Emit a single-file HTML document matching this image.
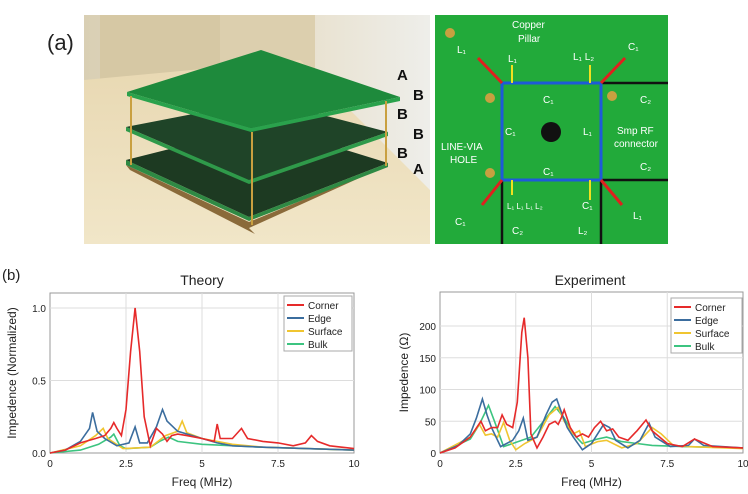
<!DOCTYPE html>
<html><head><meta charset="utf-8"><style>
body{margin:0;background:#fff;width:748px;height:494px;overflow:hidden}
svg{display:block;font-family:"Liberation Sans",sans-serif}
</style></head><body>
<svg id="s" width="748" height="494" viewBox="0 0 748 494" xmlns="http://www.w3.org/2000/svg">
<defs>
<linearGradient id="wall" x1="0" y1="0" x2="1" y2="0"><stop offset="0" stop-color="#d9cfb4"/><stop offset="0.6" stop-color="#e8e0cc"/><stop offset="1" stop-color="#eeeeea"/></linearGradient>
<linearGradient id="tab" x1="0" y1="0" x2="0" y2="1"><stop offset="0" stop-color="#e8d8b2"/><stop offset="1" stop-color="#f1e6c8"/></linearGradient>
</defs>
<text x="47" y="50" font-size="22" fill="#222">(a)</text>
<!-- left photo -->
<rect x="84" y="15" width="346" height="229" fill="url(#wall)"/>
<rect x="100" y="15" width="120" height="75" fill="#d6c8a4"/>
<rect x="220" y="15" width="95" height="70" fill="#dccfae"/>
<polygon points="84,105 84,244 430,244 430,190 300,60 84,80" fill="url(#tab)"/>
<polygon points="126,165 249,222 388,165 249,228 255,234 130,170" fill="#8a6a3a"/>
<polygon points="126,160 249,217 388,163 265,125" fill="#1d3a22"/>
<polygon points="126,160 249,217 249,221 126,165" fill="#2f8a44"/>
<polygon points="249,217 388,163 388,167 249,221" fill="#2f8a44"/>
<polygon points="126,127 249,180 388,132 265,100" fill="#1f4428"/>
<polygon points="126,127 249,180 249,184 126,131" fill="#2f9a4a"/>
<polygon points="249,180 388,132 388,136 249,184" fill="#2f9a4a"/>
<polygon points="127,92 261,50 400,97 251,128" fill="#1e8a3c"/>
<polygon points="127,92 251,128 251,132 127,96" fill="#2aa24c"/>
<polygon points="251,128 400,97 400,101 251,132" fill="#2aa24c"/>
<line x1="131" y1="96" x2="131" y2="165" stroke="#c9a040" stroke-width="2"/>
<line x1="252" y1="132" x2="252" y2="225" stroke="#c9a040" stroke-width="2"/>
<line x1="386" y1="101" x2="386" y2="166" stroke="#c9a040" stroke-width="2"/>
<g font-size="15" font-weight="bold" fill="#111">
<text x="397" y="80">A</text><text x="413" y="100">B</text><text x="397" y="119">B</text><text x="413" y="139">B</text><text x="397" y="158">B</text><text x="413" y="174">A</text>
</g>
<!-- right photo -->
<rect x="435" y="15" width="233" height="229" fill="#22aa3a"/>
<g stroke="#111" stroke-width="2.5"><line x1="601" y1="83" x2="668" y2="83"/><line x1="601" y1="180" x2="668" y2="180"/><line x1="502" y1="180" x2="502" y2="244"/><line x1="601" y1="180" x2="601" y2="244"/></g>
<rect x="502" y="83" width="99" height="97" fill="none" stroke="#1e5ad8" stroke-width="3"/>
<g stroke="#e0201e" stroke-width="3"><line x1="502" y1="83" x2="478" y2="58"/><line x1="601" y1="83" x2="625" y2="58"/><line x1="502" y1="180" x2="482" y2="205"/><line x1="601" y1="180" x2="622" y2="205"/></g>
<g stroke="#f0e020" stroke-width="2"><line x1="512" y1="83" x2="512" y2="65"/><line x1="590" y1="83" x2="590" y2="65"/><line x1="512" y1="180" x2="512" y2="195"/><line x1="590" y1="180" x2="590" y2="200"/></g>
<circle cx="551" cy="132" r="10" fill="#111"/>
<circle cx="450" cy="33" r="5" fill="#c8a040"/><circle cx="490" cy="98" r="5" fill="#c8a040"/><circle cx="612" cy="96" r="5" fill="#c8a040"/><circle cx="490" cy="173" r="5" fill="#c8a040"/>
<g fill="#fff" font-size="10">
<text x="512" y="28">Copper</text><text x="518" y="42">Pillar</text>
<text x="457" y="53">L₁</text><text x="508" y="62">L₁</text><text x="573" y="60">L₁ L₂</text><text x="628" y="50">C₁</text>
<text x="543" y="103">C₁</text><text x="640" y="103">C₂</text>
<text x="505" y="135">C₁</text><text x="583" y="135">L₁</text>
<text x="617" y="134">Smp RF</text><text x="614" y="147">connector</text>
<text x="441" y="150">LINE-VIA</text><text x="450" y="163">HOLE</text>
<text x="640" y="170">C₂</text><text x="543" y="175">C₁</text>
<text x="507" y="209" font-size="8">L₁ L₁ L₁ L₂</text><text x="582" y="209">C₁</text>
<text x="455" y="225">C₁</text><text x="633" y="219">L₁</text>
<text x="512" y="234">C₂</text><text x="578" y="234">L₂</text>
</g>
<text x="2" y="280" font-size="15" fill="#222">(b)</text>
<g id="charts"></g>
</svg>
<script>
const NS="http://www.w3.org/2000/svg",g=document.getElementById('charts');
function el(t,a,txt){const e=document.createElementNS(NS,t);for(const k in a)e.setAttribute(k,a[k]);if(txt!==undefined)e.textContent=txt;g.appendChild(e);return e;}
const C={r:"#e62a2a",b:"#3b6d9e",y:"#f0c530",g:"#3cc480"};
function chart(o){
 const X=f=>o.x0+f*(o.x1-o.x0)/10,Y=v=>o.y0-v*o.sy;
 el('rect',{x:o.x0,y:o.top,width:o.x1-o.x0,height:o.y0-o.top,fill:"#fff",stroke:"#999","stroke-width":1});
 [2.5,5,7.5].forEach(f=>el('line',{x1:X(f),x2:X(f),y1:o.top,y2:o.y0,stroke:"#ddd"}));
 o.yt.forEach(v=>{if(v>0)el('line',{x1:o.x0,x2:o.x1,y1:Y(v),y2:Y(v),stroke:"#ddd"});el('text',{x:o.x0-4,y:Y(v)+4,"font-size":10,"text-anchor":"end",fill:"#222"},o.yl(v));});
 [0,2.5,5,7.5,10].forEach(f=>el('text',{x:X(f),y:o.y0+14,"font-size":10,"text-anchor":"middle",fill:"#222"},String(f)));
 el('text',{x:(o.x0+o.x1)/2,y:486,"font-size":12,"text-anchor":"middle",fill:"#222"},"Freq (MHz)");
 el('text',{x:o.tx,y:285,"font-size":14,"text-anchor":"middle",fill:"#222"},o.title);
 el('text',{x:0,y:0,"font-size":12,"text-anchor":"middle",fill:"#222",transform:`translate(${o.lx},${(o.top+o.y0)/2}) rotate(-90)`},o.ylab);
 for(const k in o.d){el('polyline',{points:o.d[k].map(p=>X(p[0]).toFixed(1)+","+Y(p[1]).toFixed(1)).join(" "),fill:"none",stroke:C[k],"stroke-width":1.6});}
 const L=o.leg;el('rect',{x:L[0],y:L[1],width:L[2],height:55,fill:"#fff",stroke:"#aaa"});
 [["r","Corner"],["b","Edge"],["y","Surface"],["g","Bulk"]].forEach((s,i)=>{const yy=L[1]+9+i*13;el('line',{x1:L[0]+3,x2:L[0]+20,y1:yy,y2:yy,stroke:C[s[0]],"stroke-width":2});el('text',{x:L[0]+24,y:yy+4,"font-size":10,fill:"#222"},s[1]);});
}
const P=s=>s.split(";").map(p=>p.split(",").map(Number));
chart({x0:50,x1:354,y0:453,top:293,sy:145,title:"Theory",tx:202,lx:16,ylab:"Impedence (Normalized)",yt:[0,0.5,1],yl:v=>v.toFixed(1),leg:[284,296,68],
d:{g:P("0,0;1.0,0.02;1.6,0.06;2.0,0.11;2.1,0.13;2.3,0.05;2.5,0.03;3.3,0.04;3.6,0.08;3.9,0.11;4.2,0.08;5,0.06;7,0.04;10,0.02"),
y:P("0,0;1.0,0.05;1.5,0.12;1.75,0.17;1.9,0.1;2.4,0.03;3.3,0.04;3.8,0.12;4.2,0.15;4.35,0.22;4.5,0.14;5.0,0.1;6,0.06;7,0.04;10,0.02"),
b:P("0,0;0.5,0.02;1.0,0.08;1.3,0.17;1.4,0.28;1.55,0.15;1.8,0.1;2.2,0.05;2.6,0.07;2.8,0.18;2.95,0.07;3.2,0.07;3.5,0.18;3.7,0.3;3.85,0.22;4.2,0.15;5.0,0.1;5.5,0.07;6.0,0.05;7,0.04;10,0.02"),
r:P("0,0;0.5,0.02;1,0.07;1.5,0.1;1.8,0.12;2.0,0.17;2.1,0.21;2.2,0.17;2.35,0.12;2.5,0.3;2.65,0.7;2.8,1.0;2.95,0.7;3.1,0.25;3.3,0.05;3.5,0.17;3.7,0.13;3.85,0.08;4.0,0.12;4.2,0.13;4.5,0.12;5.0,0.1;5.4,0.08;5.5,0.2;5.6,0.1;6.0,0.1;6.3,0.17;6.5,0.1;7.0,0.08;7.5,0.07;8.0,0.05;8.4,0.07;8.6,0.12;8.8,0.08;9.2,0.05;10,0.03")}});
chart({x0:440,x1:743,y0:453,top:292,sy:0.635,title:"Experiment",tx:590,lx:408,ylab:"Impedence (Ω)",yt:[0,50,100,150,200],yl:v=>String(v),leg:[671,298,71],
d:{g:P("0,0;1,22;1.3,45;1.6,75;1.8,50;2.1,10;2.4,15;3.0,25;3.5,55;3.8,73;4.1,55;4.4,30;4.7,15;5.2,22;5.5,25;6.0,18;6.5,15;7.0,12;8,10;10,8"),
y:P("0,0;1,25;1.3,45;1.5,28;1.7,30;1.9,25;2.1,48;2.3,20;2.5,5;2.8,15;3.2,25;3.6,60;3.9,72;4.1,50;4.4,30;4.6,35;4.8,10;5.2,18;5.5,20;6.0,8;6.5,15;7.0,40;7.3,30;7.7,12;8.2,10;10,7"),
b:P("0,0;0.6,12;1.0,30;1.2,55;1.4,85;1.55,60;1.7,40;2.0,10;2.4,20;2.6,35;2.75,55;2.9,20;3.2,25;3.5,60;3.7,80;3.85,85;4.0,65;4.2,40;4.4,25;4.7,5;5.0,15;5.4,45;5.6,40;5.8,20;6.2,8;6.6,20;6.9,47;7.1,25;7.6,10;8.2,12;8.4,22;8.7,12;10,8"),
r:P("0,0;0.5,8;1,25;1.35,50;1.5,35;1.7,40;1.9,40;2.05,60;2.2,45;2.4,40;2.55,80;2.7,190;2.78,213;2.9,150;3.0,30;3.2,8;3.4,25;3.6,45;3.8,50;3.9,45;4.0,55;4.1,68;4.3,40;4.5,25;4.7,30;4.9,25;5.1,40;5.3,50;5.5,35;5.7,38;5.9,25;6.2,20;6.5,35;6.8,52;7.0,35;7.5,15;8,10;8.4,22;8.6,18;9,10;10,8")}});
</script>
</body></html>
